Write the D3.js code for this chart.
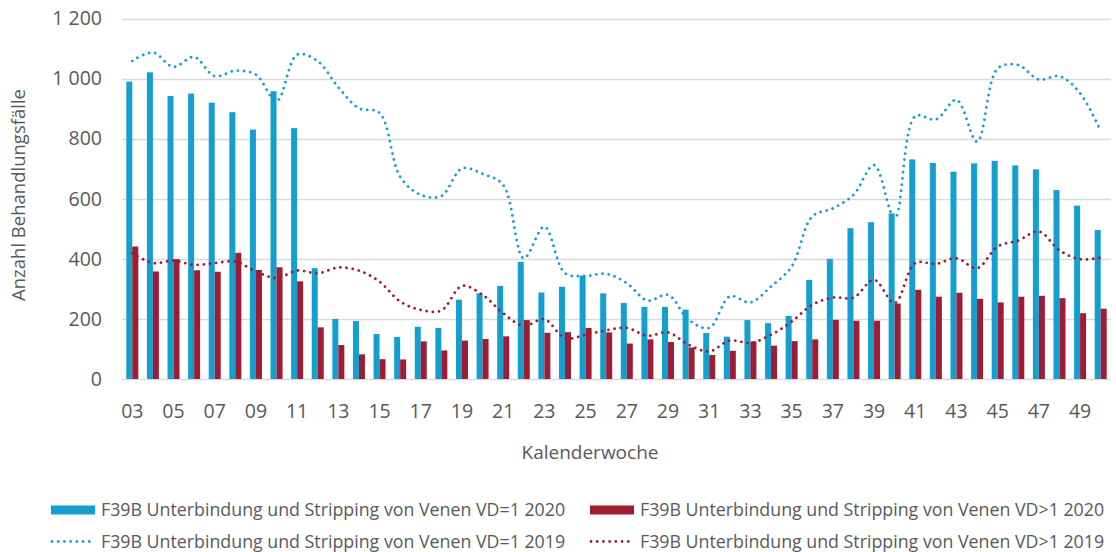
<!DOCTYPE html>
<html>
<head>
<meta charset="utf-8">
<script src="https://cdn.jsdelivr.net/npm/d3@7"></script>
<style>
  body { margin: 0; background: #fff; }
  text { font-family: "Open Sans", sans-serif; fill: #595959; }
</style>
</head>
<body>
<div id="chart"></div>
<script>
var weeks = ["03","04","05","06","07","08","09","10","11","12","13","14","15","16","17","18",
  "19","20","21","22","23","24","25","26","27","28","29","30","31","32","33","34",
  "35","36","37","38","39","40","41","42","43","44","45","46","47","48","49","50"];

// F39B VD=1 2020 (bars)
var vd1_2020 = [990,1021,942,950,920,888,830,958,835,369,200,193,150,140,174,170,
  264,285,310,390,288,307,344,285,253,240,240,231,153,141,196,186,
  210,330,400,502,522,551,731,719,690,718,726,711,698,629,577,496];
// F39B VD>1 2020 (bars)
var vdx_2020 = [441,358,399,362,357,420,363,372,325,172,113,82,66,65,125,95,
  128,133,142,196,154,156,170,155,118,132,123,105,80,94,125,111,
  126,132,197,194,194,251,297,274,287,267,255,274,277,269,219,234];
// F39B VD=1 2019 (dotted)
var vd1_2019 = [1059,1087,1039,1072,1008,1026,1013,925,1080,1058,971,901,886,673,613,609,
  701,683,646,402,507,352,343,350,319,261,280,197,170,275,255,308,
  374,541,568,613,712,535,875,864,929,790,1034,1045,997,1008,951,825];
// F39B VD>1 2019 (dotted)
var vdx_2019 = [419,386,394,380,386,391,358,336,361,352,371,361,324,258,230,228,
  310,280,219,177,199,136,147,162,170,144,155,114,92,128,120,147,
  191,247,271,271,330,253,386,383,402,369,441,461,491,428,399,404];

var yTicks = [0,200,400,600,800,1000,1200];
var legendLabels = [
  "F39B Unterbindung und Stripping von Venen VD=1 2020",
  "F39B Unterbindung und Stripping von Venen VD>1 2020",
  "F39B Unterbindung und Stripping von Venen VD=1 2019",
  "F39B Unterbindung und Stripping von Venen VD>1 2019"
];

var blue = "#13a0d1", red = "#9e1c34";
var W = 1116, H = 552;
var margin = { top: 18.5, right: 5, bottom: 173, left: 122 };

var svg = d3.select("#chart").append("svg")
  .attr("width", W).attr("height", H);

var x = d3.scaleBand().domain(weeks)
  .range([margin.left, W - margin.right]).padding(0);
var y = d3.scaleLinear().domain([0, 1200])
  .range([H - margin.bottom, margin.top]);

var barW = 6;

// gridlines
svg.append("g").selectAll("line").data(yTicks).enter().append("line")
  .attr("x1", margin.left).attr("x2", W - margin.right)
  .attr("y1", function (d) { return Math.round(y(d)) + 0.5; })
  .attr("y2", function (d) { return Math.round(y(d)) + 0.5; })
  .attr("stroke", "#d9d9d9").attr("stroke-width", 1.3);

// y labels
svg.append("g").selectAll("text").data(yTicks).enter().append("text")
  .attr("x", 102).attr("y", function (d) { return y(d); })
  .attr("dy", "0.35em").attr("text-anchor", "end")
  .style("font-size", "19.5px")
  .text(function (d) { return d >= 1000 ? d3.format(",")(d).replace(",", " ") : d; });

// bars
var cx = function (w) { return x(w) + x.bandwidth() / 2; };
svg.append("g").selectAll("rect").data(vd1_2020).enter().append("rect")
  .attr("x", function (d, i) { return cx(weeks[i]) - barW; })
  .attr("width", barW)
  .attr("y", function (d) { return y(d); })
  .attr("height", function (d) { return y(0) - y(d); })
  .attr("fill", blue);
svg.append("g").selectAll("rect").data(vdx_2020).enter().append("rect")
  .attr("x", function (d, i) { return cx(weeks[i]); })
  .attr("width", barW)
  .attr("y", function (d) { return y(d); })
  .attr("height", function (d) { return y(0) - y(d); })
  .attr("fill", red);

// dotted lines
var line = d3.line()
  .x(function (d, i) { return cx(weeks[i]); })
  .y(function (d) { return y(d); })
  .curve(d3.curveCatmullRom.alpha(0.5));

[[vd1_2019, blue], [vdx_2019, red]].forEach(function (s) {
  svg.append("path").datum(s[0])
    .attr("d", line)
    .attr("fill", "none")
    .attr("stroke", s[1])
    .attr("stroke-width", 2.8)
    .attr("stroke-linecap", "round")
    .attr("stroke-dasharray", "0.01 6.2");
});

// x labels
svg.append("g").selectAll("text")
  .data(weeks.filter(function (d, i) { return i % 2 == 0; }))
  .enter().append("text")
  .attr("x", function (d) { return cx(d); })
  .attr("y", 411).attr("dy", "0.35em")
  .attr("text-anchor", "middle")
  .style("font-size", "19.5px")
  .text(function (d) { return d; });

// axis titles
svg.append("text")
  .attr("x", 590).attr("y", 452).attr("dy", "0.35em")
  .attr("text-anchor", "middle").style("font-size", "19px")
  .text("Kalenderwoche");
svg.append("text")
  .attr("transform", "translate(18.5,195) rotate(-90)")
  .attr("dy", "0.35em")
  .attr("text-anchor", "middle").style("font-size", "18.5px")
  .text("Anzahl Behandlungsfälle");

// legend
var legPos = [[51, 510], [590, 510], [51, 541.5], [590, 541.5]];
var legend = svg.append("g");
legendLabels.forEach(function (lab, i) {
  var p = legPos[i];
  var c = (i % 2 == 0) ? blue : red;
  if (i < 2) {
    legend.append("rect").attr("x", p[0]).attr("y", p[1] - 4.5)
      .attr("width", 44).attr("height", 9).attr("fill", c);
  } else {
    legend.append("line").attr("x1", p[0] + 1).attr("x2", p[0] + 42)
      .attr("y1", p[1]).attr("y2", p[1])
      .attr("stroke", c).attr("stroke-width", 2.8)
      .attr("stroke-linecap", "round").attr("stroke-dasharray", "0.01 6.2");
  }
  legend.append("text").attr("x", p[0] + 50).attr("y", p[1])
    .attr("dy", "0.35em").style("font-size", "17.8px").text(lab);
});
</script>
</body>
</html>
